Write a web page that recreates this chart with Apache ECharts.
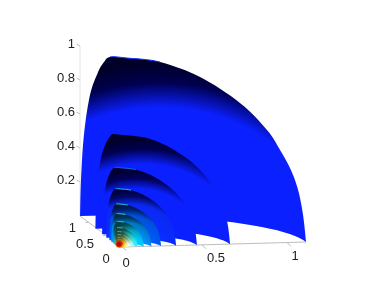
<!DOCTYPE html>
<html><head><meta charset="utf-8">
<style>html,body{margin:0;padding:0;background:#fff}#c{width:374px;height:281px}</style>
<script src="https://cdn.jsdelivr.net/npm/echarts@6/dist/echarts.min.js"></script>
</head><body><div id="c"></div>
<script>
// shell radii as read from the floor edges and apex rims of each quarter shell
const shellRadius=[1,.596,.42,.309,.229,.178,.137,.105,.084,.068,.053,.042,.033,.025,.018];
const shellLow =['#0b20ff','#0b20ff','#0b20ff','#0a2cff','#0058ff','#0090ff','#00c8ff','#30f0ff','#a0ffff','#e8ffe8','#ffffa0','#fff040','#ffd820','#ffb000','#ff8000'];
const shellMid =['#0b20ff','#0b20ff','#0b20ff','#0a28f0','#0050d8','#0078c0','#00a0c0','#20b0b0','#50b090','#90a858','#c89830','#e07010','#e03000','#d01000','#c00000'];
const shellDark=['#000050','#000050','#000058','#000868','#002070','#003868','#0a5a60','#186058','#306050','#486840','#787030','#a06010','#c03000','#b00000','#a00000'];
const shellTop =['#000028','#000028','#000030','#000038','#001440','#002840','#004048','#104840','#204838','#385030','#585018','#785010','#903800','#a02000','#900000'];
const shellRim =['#1030ff','#0a28e0','#0a70e8','#10c8e8','#30e0e0','#40e0e0','#50d8d0','#50c8c0','#60c0b0','#70c0a0','#90b080','#a0a060','#c08040','#c04000','#900000'];
const coreStart=6; // shells from here inward are lit from the right of the origin
// unit shell silhouette, left floor point to right floor point (along the x axis unit, above the origin)
const outlineX=[-.228,-.223,-.207,-.174,-.130,-.098,-.065,.027,.207,.424,.641,.788,.859,.918,.957,.984,1];
const outlineZ=[.168,.364,.609,.826,.951,1.005,1.033,1.027,1.005,.924,.783,.636,.527,.418,.310,.174,.027];
const apexRange=[6,8];
// hot spot at the shells' common centre
const hotSpot=[[-.016,.016]];
// axis ticks
const zTicks=[0.2,0.4,0.6,0.8,1];
const xTickValues=['0','0.5','1'];
const xTickAlong=[0,.435,.897];
const yTickValues=['0','0.5','1'];
const yTickAlong=[0,.38,.8];

const S=184, OX=122, OY=247;
const toX=p=>(p-OX)/S, toY=p=>(OY-p)/S;
const xEnd=[1,5/S], yEnd=[-42/S,31/S];
const CX=toX(118), CY=toY(247.5);
const xArm=[1-CX,xEnd[1]-CY], yArm=[yEnd[0]-CX,yEnd[1]-CY];

function spline(xs,ys,n){
  const pts=[];const m=xs.length;
  for(let i=0;i<m-1;i++){
    const a=Math.max(i-1,0),b=i,c=i+1,d=Math.min(i+2,m-1);
    for(let k=0;k<n;k++){
      const t=k/n,t2=t*t,t3=t2*t;
      const f=(p0,p1,p2,p3)=>.5*(2*p1+(p2-p0)*t+(2*p0-5*p1+4*p2-p3)*t2+(3*p1-p0-3*p2+p3)*t3);
      pts.push([f(xs[a],xs[b],xs[c],xs[d]),f(ys[a],ys[b],ys[c],ys[d])]);
    }
  }
  pts.push([xs[m-1],ys[m-1]]);
  return pts;
}
const stepsPerSeg=8;
const unitOutline=spline(outlineX,outlineZ,stepsPerSeg);

function shellItem(params,api){
  const i=api.value(0), r=shellRadius[i];
  const sc=p=>api.coord([CX+r*(p[0]-CX),CY+r*(p[1]-CY)]);
  const pts=unitOutline.map(sc);
  for(let k=1;k<24;k++){
    const a=k/24*Math.PI/2,c=Math.cos(a),s=Math.sin(a);
    pts.push(api.coord([CX+r*(c*xArm[0]+s*yArm[0]),CY+r*(c*xArm[1]+s*yArm[1])]));
  }
  const o=api.coord([CX,CY]);
  const core=i>=coreStart;
  const cxo=core?90:42, cyo=core?40:52.5, R=core?230:250;
  const fill={type:'radial',x:o[0]+cxo*r,y:o[1]+cyo*r,r:R*r,global:true,colorStops:[
    {offset:0,color:shellLow[i]},{offset:core?.5:.55,color:shellLow[i]},
    {offset:core?.72:.77,color:shellMid[i]},{offset:.87,color:shellDark[i]},{offset:.95,color:shellTop[i]},{offset:1,color:shellTop[i]}]};
  const rim=unitOutline.slice(apexRange[0]*stepsPerSeg,apexRange[1]*stepsPerSeg+1).map(sc);
  return {type:'group',children:[
    {type:'polygon',shape:{points:pts},style:{fill:fill}},
    {type:'polyline',shape:{points:rim},style:{fill:null,stroke:shellRim[i],lineWidth:1}}
  ]};
}

const grey='#bdbdbd';
function frameItem(params,api){
  const lines=[];
  const seg=(a,b,c)=>lines.push({type:'line',shape:{x1:a[0],y1:a[1],x2:b[0],y2:b[1]},style:{stroke:c||grey,lineWidth:1}});
  const P=(u,v)=>api.coord([u*xEnd[0]+v*yEnd[0],u*xEnd[1]+v*yEnd[1]]);
  seg(P(0,0),P(1,0)); seg(P(0,-.1),P(0,1));
  seg(api.coord([toX(80),toY(46)]),api.coord([toX(80),toY(216)]),'#e4e4e4');
  xTickAlong.forEach((u,i)=>{
    const p=P(u,0);
    if(i>0) seg(p,[p[0]+4,p[1]+4]);
    lines.push({type:'text',x:p[0]+[4,14,8][i],y:p[1]+[16,14,14][i],
      style:{text:xTickValues[i],fill:'#222',font:'13px "Liberation Sans"',align:'center',verticalAlign:'middle'}});
  });
  yTickAlong.forEach((v,i)=>{
    const p=P(0,v);
    seg(p,[p[0]-3,p[1]+.5]);
    lines.push({type:'text',x:p[0]+[-16,-21,-16][i],y:p[1]+[12,9,6.5][i],
      style:{text:yTickValues[i],fill:'#222',font:'13px "Liberation Sans"',align:'center',verticalAlign:'middle'}});
  });
  zTicks.forEach(z=>{
    const a=api.coord([toX(80),toY(216-170*z)]);
    seg(a,[a[0]-3.5,a[1]-2]);
  });
  return {type:'group',children:lines};
}

const chart=echarts.init(document.getElementById('c'),null,{renderer:'canvas'});
chart.setOption({
  animation:false,backgroundColor:'#fff',
  grid:[
    {left:80,top:44,width:226,height:170},
    {left:0,top:0,width:374,height:281}
  ],
  xAxis:[
    {gridIndex:0,type:'value',min:0,max:1,show:false},
    {gridIndex:1,type:'value',min:toX(0),max:toX(374),show:false}
  ],
  yAxis:[
    {gridIndex:0,type:'value',min:0,max:1,interval:.2,splitLine:{show:false},
     axisLine:{show:false},axisTick:{show:false},
     axisLabel:{margin:5,color:'#222',fontSize:13,fontFamily:'Liberation Sans',
       formatter:v=>zTicks.some(t=>Math.abs(t-v)<1e-6)?String(+v.toFixed(1)):''}},
    {gridIndex:1,type:'value',min:toY(281),max:toY(0),show:false}
  ],
  series:[
    {type:'custom',name:'frame',xAxisIndex:1,yAxisIndex:1,clip:false,z:1,renderItem:frameItem,data:[[0]],silent:true},
    {type:'custom',name:'shells',xAxisIndex:1,yAxisIndex:1,clip:false,z:2,renderItem:shellItem,
     data:shellRadius.map((r,i)=>[i,r]),silent:true},
    {type:'scatter',name:'core',xAxisIndex:1,yAxisIndex:1,z:3,symbol:'circle',symbolSize:9,silent:true,data:hotSpot,
     itemStyle:{opacity:1,color:{type:'radial',x:.5,y:.5,r:.5,colorStops:[
       {offset:0,color:'rgba(170,0,0,1)'},{offset:.55,color:'rgba(200,20,0,.9)'},{offset:1,color:'rgba(240,110,0,0)'}]}}}
  ]
});
</script></body></html>
